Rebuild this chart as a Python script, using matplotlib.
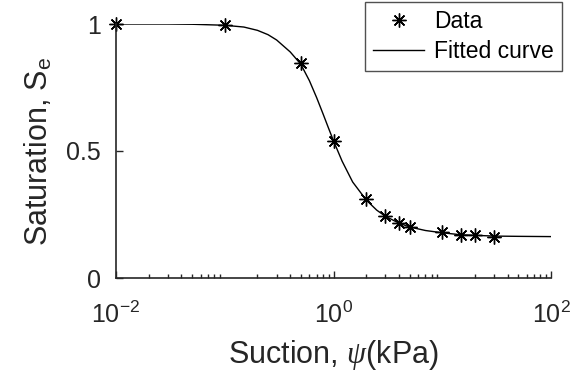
import numpy as np
import matplotlib
matplotlib.use("Agg")
import matplotlib.pyplot as plt
from matplotlib.ticker import LogLocator, FixedLocator

plt.rcParams['font.family'] = ['Liberation Sans', 'DejaVu Sans']
plt.rcParams['mathtext.fontset'] = 'custom'
plt.rcParams['mathtext.rm'] = 'Liberation Sans'
plt.rcParams['mathtext.it'] = 'Liberation Serif:italic'

# measured data (suction in kPa, effective saturation)
psi_data = [0.01, 0.1, 0.5, 1, 2, 3, 4, 5, 10, 15, 20, 30]
se_data = [1.0, 0.995, 0.845, 0.54, 0.31, 0.244, 0.216, 0.20, 0.18, 0.171, 0.168, 0.162]

# fitted curve
psi_fit = [0.01, 0.03, 0.05, 0.1, 0.15, 0.2, 0.25, 0.3, 0.4, 0.5, 0.6, 0.7, 0.8, 0.9,
           1.0, 1.2, 1.5, 2, 2.5, 3, 4, 5, 7, 10, 15, 20, 30, 50, 100]
se_fit = [1.0, 1.0, 0.999, 0.995, 0.988, 0.975, 0.958, 0.937, 0.890, 0.842, 0.777, 0.710,
          0.647, 0.590, 0.540, 0.460, 0.378, 0.307, 0.267, 0.243, 0.216, 0.201, 0.187,
          0.178, 0.170, 0.168, 0.165, 0.164, 0.163]

dark = '#262626'

fig = plt.figure(figsize=(5.76, 3.72), dpi=100)
ax = fig.add_axes([116/576, 1-278/372, 435/576, 254/372])

ax.plot(psi_data, se_data, linestyle='none', marker=(8, 2, 0), markersize=10,
        markeredgewidth=1.0, color='k', label='Data', clip_on=False)
ax.plot(psi_fit, se_fit, '-', color='k', linewidth=1.0, label='Fitted curve')

ax.set_xscale('log')
ax.set_xlim(1e-2, 1e2)
ax.set_ylim(0, 1)
ax.xaxis.set_major_locator(FixedLocator([1e-2, 1e0, 1e2]))
ax.xaxis.set_minor_locator(LogLocator(base=10, subs=np.arange(2, 10), numticks=20))
ax.set_yticks([0, 0.5, 1])
ax.set_yticklabels(['0', '0.5', '1'])

for s in ['top', 'right']:
    ax.spines[s].set_visible(False)
for s in ['left', 'bottom']:
    ax.spines[s].set_color(dark)
    ax.spines[s].set_linewidth(1.2)

ax.tick_params(which='both', direction='in', colors=dark, labelsize=18)
ax.tick_params(which='major', length=5, width=1)
ax.tick_params(which='minor', length=3, width=1)
ax.tick_params(axis='x', pad=17)
ax.tick_params(axis='y', pad=11)

ax.set_xlabel('Suction, $\\psi$(kPa)', fontsize=22, color=dark, labelpad=7)
ax.set_ylabel('Saturation, S$_\\mathrm{e}$', fontsize=22, color=dark, labelpad=8)

leg = ax.legend(loc='upper right', bbox_to_anchor=(562/576, 1-2/372),
                bbox_transform=fig.transFigure, fontsize=16.5, frameon=True,
                fancybox=False, handlelength=2.2, borderpad=0.35, labelspacing=0.3,
                handletextpad=0.45, borderaxespad=0)
leg.get_frame().set_edgecolor(dark)
leg.get_frame().set_linewidth(1.0)
for t in leg.get_texts():
    t.set_color('k')

fig.savefig('out.png', dpi=100)
